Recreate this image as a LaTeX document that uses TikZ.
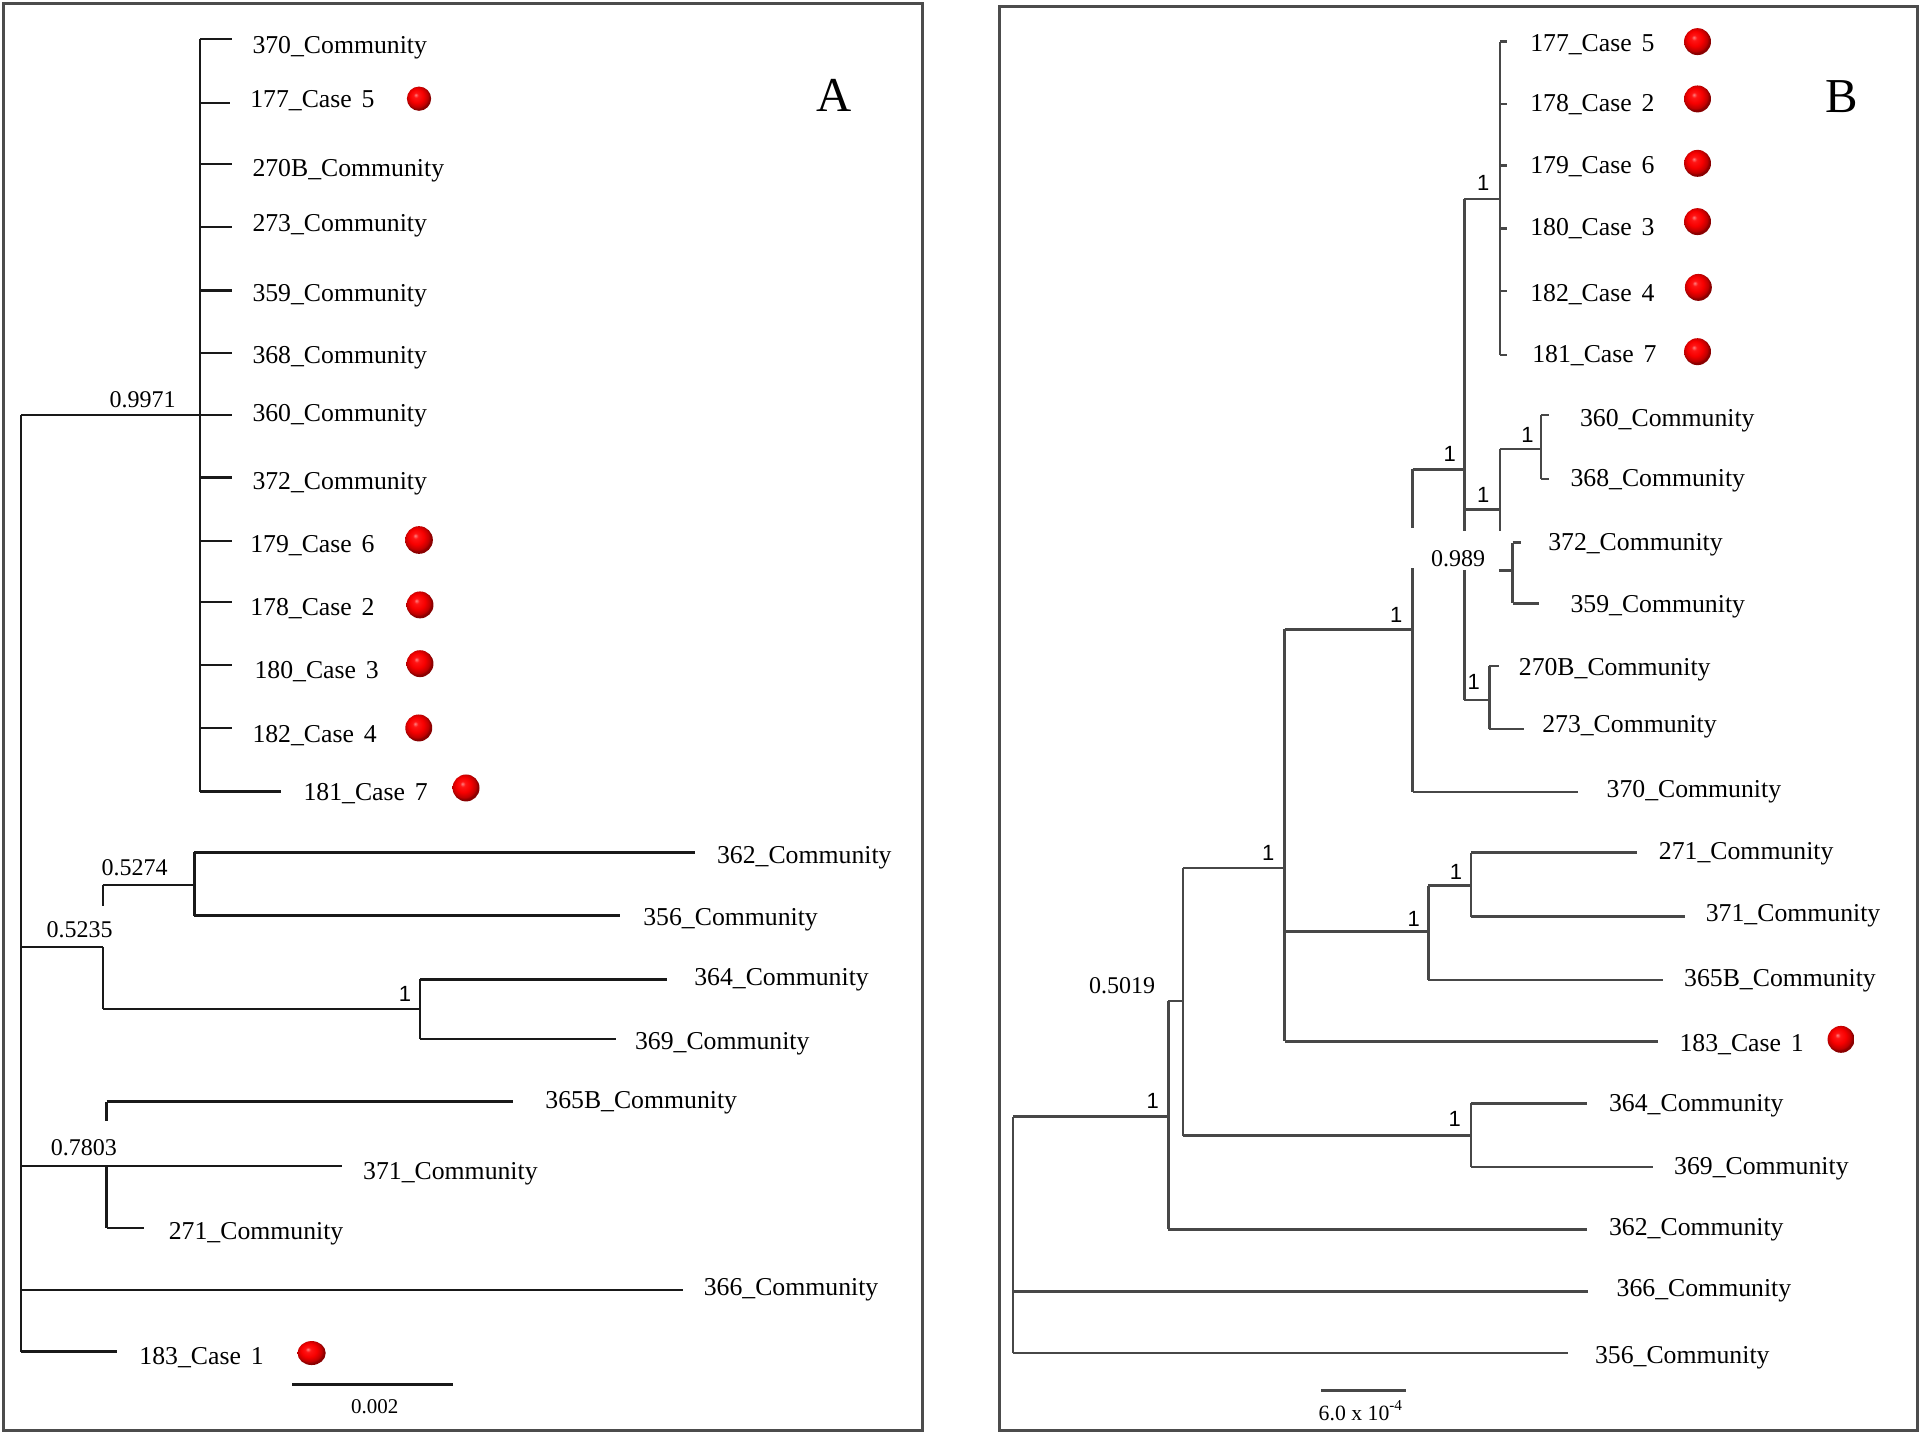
\documentclass[tikz,border=0pt]{standalone}
\usepackage{fontspec}
\setmainfont{Liberation Serif}
\newfontfamily\arialfont{Liberation Sans}
\newcommand\cs[1]{Case\hspace{0.38em}#1}
\pgfdeclareradialshading{redball}{\pgfqpoint{-7bp}{8bp}}{%
  color(0bp)=(red!50!white); color(5bp)=(red!92!white); color(14bp)=(red!97!black);
  color(22bp)=(red!75!black); color(25bp)=(red!55!black); color(50bp)=(red!40!black)}
\begin{document}
\begin{tikzpicture}[x=0.49pt,y=-0.49pt,
  lbl/.style={anchor=base west,inner sep=0pt,font=\fontsize{10.3}{12}\selectfont},
  supv/.style={inner sep=0pt,font=\fontsize{9.6}{11}\selectfont},
  one/.style={inner sep=0pt,font=\arialfont\fontsize{8.8}{10}\selectfont},
  brA/.style={line width=0.95pt,black!90},
  brB/.style={line width=1pt,black!72},
  panelframe/.style={line width=1.2pt,black!70},
  sph/.style={shading=redball}]
\useasboundingbox (0,0) rectangle (1568,1171);

% ---------------- frames ----------------
\draw[panelframe] (2.5,2.5) rectangle (753,1168);
\draw[panelframe] (816,5) rectangle (1566,1168);

\node[inner sep=0pt,font=\fontsize{19.5}{22}\selectfont] (letA) at (681,78) {A};
\node[inner sep=0pt,font=\fontsize{19.5}{22}\selectfont] (letB) at (1503.8,79) {B};

% ================= Panel A =================
% big clade
\draw[brA] (17.2,338.9) -- (163.3,338.9);
\draw[brA] (163.3,32.1) -- (163.3,646.5);
\foreach \yy in {32.1,133.7,185.4,237.1,288.5,338.9,390.1,441.8,491.6,543.1,594.5}
  \draw[brA] (163.3,\yy) -- (189.5,\yy);
\draw[brA] (163.3,83.9) -- (187.8,83.9);
\draw[brA] (163.3,646.5) -- (229.2,646.5);
% root vertical
\draw[brA] (17.2,338.9) -- (17.2,1103.8);
% 362/356
\draw[brA] (83.9,722.5) -- (83.9,739.6);
\draw[brA] (83.9,773.2) -- (83.9,823.9);
\draw[brA] (83.9,722.5) -- (158.7,722.5);
\draw[brA] (158.7,696.1) -- (158.7,747.8);
\draw[brA] (158.7,696.1) -- (567.4,696.1);
\draw[brA] (158.7,747.8) -- (506,747.8);
\draw[brA] (17.2,773.2) -- (83.9,773.2);
% 364/369
\draw[brA] (83.9,823.9) -- (343,823.9);
\draw[brA] (343,799.8) -- (343,848.6);
\draw[brA] (343,799.8) -- (544.4,799.8);
\draw[brA] (343,848.6) -- (502.7,848.6);
% 365B/271/371
\draw[brA] (87.1,899.6) -- (87.1,915.8);
\draw[brA] (87.1,952) -- (87.1,1003);
\draw[brA] (87.1,899.6) -- (419,899.6);
\draw[brA] (17.2,952) -- (279,952);
\draw[brA] (87.1,1003) -- (117.6,1003);
% 366, 183
\draw[brA] (17.2,1053.4) -- (557.6,1053.4);
\draw[brA] (17.2,1103.8) -- (95.8,1103.8);
% scale bar
\draw[brA] (238.5,1130.8) -- (370.2,1130.8);
\node[supv,font=\fontsize{8.4}{10}\selectfont] (scA) at (306,1149) {0.002};

% support values A
\node[supv] (sA1) at (116.4,326.7) {0.9971};
\node[supv] (sA2) at (110,708.6) {0.5274};
\node[supv] (sA3) at (65,759.3) {0.5235};
\node[one] (sA4) at (330.7,812) {1};
\node[supv] (sA5) at (68.5,937.2) {0.7803};

% leaf labels A
\node[lbl] (a370) at (205.8,43.7) {370\_Community};
\node[lbl] (a177) at (204,88) {177\_\cs{5}};
\node[lbl] (a270) at (205.8,144) {270B\_Community};
\node[lbl] (a273) at (205.8,189) {273\_Community};
\node[lbl] (a359) at (205.8,246) {359\_Community};
\node[lbl] (a368) at (205.8,297) {368\_Community};
\node[lbl] (a360) at (205.8,344.6) {360\_Community};
\node[lbl] (a372) at (205.8,400) {372\_Community};
\node[lbl] (a179) at (204,451) {179\_\cs{6}};
\node[lbl] (a178) at (204,503) {178\_\cs{2}};
\node[lbl] (a180) at (207.5,554) {180\_\cs{3}};
\node[lbl] (a182) at (205.8,606) {182\_\cs{4}};
\node[lbl] (a181) at (247.5,653.5) {181\_\cs{7}};
\node[lbl] (a362) at (585.2,704.8) {362\_Community};
\node[lbl] (a356) at (525,755.6) {356\_Community};
\node[lbl] (a364) at (566.6,805) {364\_Community};
\node[lbl] (a369) at (518.2,857) {369\_Community};
\node[lbl] (a365) at (445,905) {365B\_Community};
\node[lbl] (a371) at (296.2,963.6) {371\_Community};
\node[lbl] (a271) at (137.5,1012) {271\_Community};
\node[lbl] (a366) at (574.4,1058) {366\_Community};
\node[lbl] (a183) at (113.5,1114) {183\_\cs{1}};

% dots A
\shade[sph] (342.2,80.6) circle [radius=9.9];
\shade[sph] (342.2,441) circle [radius=11.3];
\shade[sph] (343,494) circle [radius=11];
\shade[sph] (343,542) circle [radius=11];
\shade[sph] (342,594.5) circle [radius=11];
\shade[sph] (380.6,643.5) circle [radius=11];
\shade[sph] (254.5,1105) ellipse [x radius=11.5,y radius=9.8];

% ================= Panel B =================
% cases clade
\draw[brB] (1224.8,34) -- (1224.8,289.9);
\foreach \yy in {34,84.9,135.3,186.7,237.6,289.9}
  \draw[brB] (1224.8,\yy) -- (1231,\yy);
\draw[brB] (1195.9,162.5) -- (1224.8,162.5);
\node[one] (sB1) at (1211.3,149.2) {1};
% node at 1195.9
\draw[brB] (1195.9,162.5) -- (1195.9,433.4);
\draw[brB] (1195.9,465.5) -- (1195.9,571.7);
\draw[brB] (1153.7,383.3) -- (1195.9,383.3);
\node[one] (sB2) at (1184,370.8) {1};
\draw[brB] (1195.9,416) -- (1224.8,416);
\node[one] (sB3) at (1211.3,404.2) {1};
\draw[brB] (1224.8,366.7) -- (1224.8,433.4);
\draw[brB] (1224.8,366.7) -- (1258.6,366.7);
\node[one] (sB4) at (1247.4,355.2) {1};
\draw[brB] (1258.6,338.9) -- (1258.6,391.2);
\draw[brB] (1258.6,338.9) -- (1265.3,338.9);
\draw[brB] (1258.6,391.2) -- (1265.3,391.2);
% 372/359
\draw[brB] (1224,466) -- (1235.3,466);
\draw[brB] (1235.3,443.2) -- (1235.3,492.7);
\draw[brB] (1235.3,443.2) -- (1242.3,443.2);
\draw[brB] (1235.3,492.7) -- (1256.9,492.7);
\node[supv] (sB5) at (1190.7,456) {0.989};
% 270B/273
\draw[brB] (1195.9,571.7) -- (1216.4,571.7);
\draw[brB] (1216.4,543.9) -- (1216.4,595.3);
\draw[brB] (1216.4,543.9) -- (1224,543.9);
\draw[brB] (1216.4,595.3) -- (1244.5,595.3);
\node[one] (sB6) at (1203.5,556.7) {1};
% node at 1153.7
\draw[brB] (1153.7,383.3) -- (1153.7,431.5);
\draw[brB] (1153.7,464.1) -- (1153.7,647);
\draw[brB] (1153.7,647) -- (1288.7,647);
\draw[brB] (1049.1,514) -- (1153.7,514);
\node[one] (sB7) at (1140.2,502.2) {1};
% node at 1049.1
\draw[brB] (1049.1,514) -- (1049.1,850.5);
\draw[brB] (966.2,708.8) -- (1049.1,708.8);
\node[one] (sB8) at (1035.7,696.3) {1};
\draw[brB] (1049.1,850.5) -- (1354.4,850.5);
\draw[brB] (1049.1,760.7) -- (1166.5,760.7);
\node[one] (sB9) at (1154.5,750.8) {1};
\draw[brB] (1166.5,723.3) -- (1166.5,800.2);
\draw[brB] (1166.5,800.2) -- (1358.2,800.2);
\draw[brB] (1166.5,723.3) -- (1201.5,723.3);
\node[one] (sB10) at (1189,712.1) {1};
\draw[brB] (1201.5,696.3) -- (1201.5,748.5);
\draw[brB] (1201.5,696.3) -- (1336.6,696.3);
\draw[brB] (1201.5,748.5) -- (1376,748.5);
% node at 966.2
\draw[brB] (966.2,708.8) -- (966.2,927.4);
\draw[brB] (954.2,817.5) -- (966.2,817.5);
\node[supv] (sB11) at (916.3,805.2) {0.5019};
\draw[brB] (966.2,927.4) -- (1201.5,927.4);
\node[one] (sB12) at (1188,914.2) {1};
\draw[brB] (1201.5,901) -- (1201.5,952.9);
\draw[brB] (1201.5,901) -- (1296,901);
\draw[brB] (1201.5,952.9) -- (1349.6,952.9);
% node at 954.2
\draw[brB] (954.2,817.5) -- (954.2,1004);
\draw[brB] (954.2,1004) -- (1296,1004);
\draw[brB] (827.2,911.9) -- (954.2,911.9);
\node[one] (sB13) at (941.3,899.4) {1};
% root
\draw[brB] (827.2,911.9) -- (827.2,1105.1);
\draw[brB] (827.2,1054.6) -- (1296.9,1054.6);
\draw[brB] (827.2,1105.1) -- (1280.5,1105.1);
% scale bar
\draw[brB] (1078.8,1135.5) -- (1148.2,1135.5);
\node[supv,font=\fontsize{8.7}{10}\selectfont] (scB) at (1111.5,1152) {6.0 x 10\textsuperscript{-4}};

% leaf labels B
\node[lbl] (b177) at (1249.3,42.4) {177\_\cs{5}};
\node[lbl] (b178) at (1249.3,91.4) {178\_\cs{2}};
\node[lbl] (b179) at (1249.3,141.7) {179\_\cs{6}};
\node[lbl] (b180) at (1249.3,192.1) {180\_\cs{3}};
\node[lbl] (b182) at (1249.3,246.6) {182\_\cs{4}};
\node[lbl] (b181) at (1251,296.1) {181\_\cs{7}};
\node[lbl] (b360) at (1290,348.6) {360\_Community};
\node[lbl] (b368) at (1282.2,397.6) {368\_Community};
\node[lbl] (b372) at (1264,449.4) {372\_Community};
\node[lbl] (b359) at (1282.2,500.3) {359\_Community};
\node[lbl] (b270) at (1240,551.4) {270B\_Community};
\node[lbl] (b273) at (1259.1,598.3) {273\_Community};
\node[lbl] (b370) at (1311.7,651.6) {370\_Community};
\node[lbl] (b271) at (1354.4,701.6) {271\_Community};
\node[lbl] (b371) at (1392.7,752.8) {371\_Community};
\node[lbl] (b365) at (1375,805.6) {365B\_Community};
\node[lbl] (b183) at (1371.2,858.5) {183\_\cs{1}};
\node[lbl] (b364) at (1313.7,907.4) {364\_Community};
\node[lbl] (b369) at (1366.8,959.2) {369\_Community};
\node[lbl] (b362) at (1313.7,1008.7) {362\_Community};
\node[lbl] (b366) at (1319.9,1059.2) {366\_Community};
\node[lbl] (b356) at (1302.2,1113.4) {356\_Community};

% dots B
\shade[sph] (1386.3,34) circle [radius=11];
\shade[sph] (1386.3,80.8) circle [radius=11];
\shade[sph] (1386.3,133.4) circle [radius=11];
\shade[sph] (1386.3,181) circle [radius=11];
\shade[sph] (1387,234.7) circle [radius=11];
\shade[sph] (1386.3,287.2) circle [radius=11];
\shade[sph] (1503.5,848.8) circle [radius=11];
\end{tikzpicture}
\end{document}
